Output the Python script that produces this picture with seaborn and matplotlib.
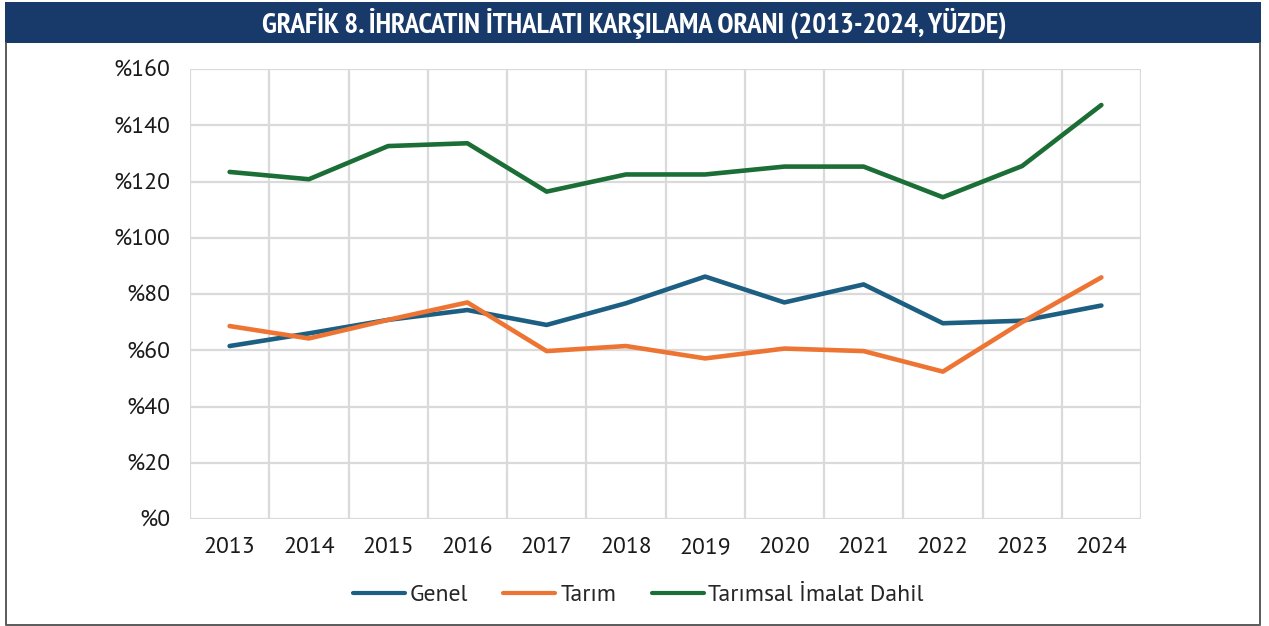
import numpy as np
import pandas as pd
import seaborn as sns
import matplotlib.pyplot as plt
from matplotlib.patches import Rectangle
from matplotlib.lines import Line2D
from matplotlib.ticker import FuncFormatter

# veriler
years = [2013, 2014, 2015, 2016, 2017, 2018, 2019, 2020, 2021, 2022, 2023, 2024]
genel = [61.5, 66.0, 70.8, 74.3, 69.0, 76.7, 86.2, 77.0, 83.4, 69.6, 70.5, 75.9]
tarim = [68.6, 64.2, 70.8, 77.0, 59.7, 61.5, 57.1, 60.6, 59.7, 52.4, 70.0, 85.9]
tarimsal_imalat = [123.4, 120.8, 132.6, 133.6, 116.4, 122.5, 122.5, 125.3, 125.3, 114.4, 125.5, 147.2]
series_names = ['Genel', 'Tarım', 'Tarımsal İmalat Dahil']
colors = ['#1d5f82', '#ed7432', '#1b6e35']
title = 'GRAFİK 8. İHRACATIN İTHALATI KARŞILAMA ORANI (2013-2024, YÜZDE)'

df = pd.DataFrame({
    'yil': years * 3,
    'oran': genel + tarim + tarimsal_imalat,
    'seri': [s for s in series_names for _ in years],
})

sns.set_style('white')
plt.rcParams['font.family'] = ['PT Sans', 'DejaVu Sans']

W, H = 1269, 626
fig = plt.figure(figsize=(W / 100, H / 100), dpi=100)

# çerçeve (sol, sağ, alt) ve başlık bandı
frame_x = [5.5 / W, 5.5 / W, 1260 / W, 1260 / W]
frame_y = [1 - 43 / H, 1 - 624.5 / H, 1 - 624.5 / H, 1 - 43 / H]
fig.add_artist(Line2D(frame_x, frame_y, transform=fig.transFigure,
                      color='#5a5a5a', linewidth=1.4))
fig.patches.append(Rectangle((5 / W, 1 - 43 / H), 1256 / W, 41 / H,
                             transform=fig.transFigure, facecolor='#173a6a',
                             edgecolor='none'))
fig.text(0.5, 1 - 23 / H, title, ha='center', va='center', color='white',
         fontsize=21, fontweight='bold', family=['PT Sans Narrow', 'DejaVu Sans'])

ax = fig.add_axes([190 / W, 1 - 519 / H, 951 / W, 450 / H])
sns.lineplot(data=df, x='yil', y='oran', hue='seri', hue_order=series_names,
             palette=colors, linewidth=3.3, ax=ax, legend=True)

ax.set_xlim(years[0] - 0.5, years[-1] + 0.5)
ax.set_ylim(0, 160)
ax.set_xticks(years)
ax.set_xticks(np.arange(years[0] - 0.5, years[-1] + 1), minor=True)
ax.set_yticks(np.arange(0, 161, 20))
ax.yaxis.set_major_formatter(FuncFormatter(lambda v, p: f'%{int(v)}'))
ax.grid(axis='y', which='major', color='#dadada', linewidth=1.6)
ax.grid(axis='x', which='minor', color='#dadada', linewidth=1.6)
ax.set_axisbelow(True)
for s in ax.spines.values():
    s.set_visible(False)
ax.tick_params(axis='both', which='both', length=0, labelsize=17, colors='#1a1a1a')
ax.tick_params(axis='y', pad=14)
ax.tick_params(axis='x', pad=13)
ax.set_xlabel('')
ax.set_ylabel('')

handles, labels = ax.get_legend_handles_labels()
ax.get_legend().remove()
for h in handles:
    h.set_linewidth(3.0)
fig.legend(handles, labels, loc='center', bbox_to_anchor=(0.503, 1 - 595 / H),
           ncol=3, frameon=False, fontsize=17, handlelength=2.2,
           columnspacing=1.5, handletextpad=0.2)

fig.savefig('out.png', dpi=100)
